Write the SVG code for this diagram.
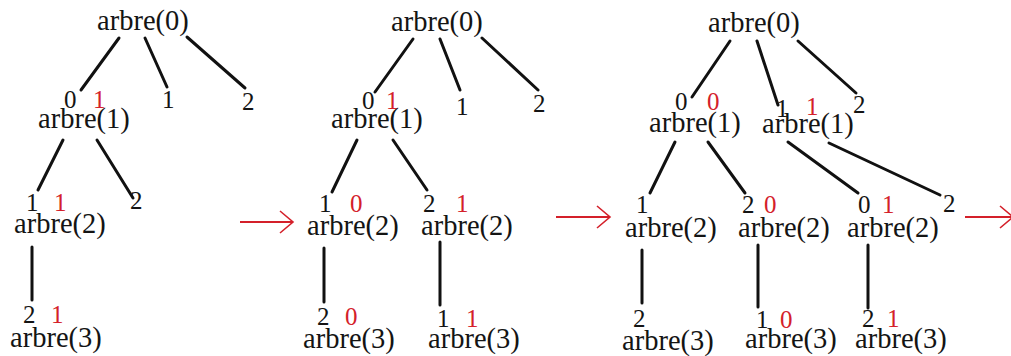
<svg xmlns="http://www.w3.org/2000/svg" width="1011" height="356" viewBox="0 0 1011 356">
<defs>
<style>
text{font-family:"Liberation Serif","Times New Roman",serif;fill:#141414}
.a{font-size:28.5px}
.d{font-size:25px}
.r{fill:#d4202a}
.e{stroke:#111;stroke-width:3;stroke-linecap:round;fill:none}
.ar{stroke:#d4202a;stroke-width:2;fill:none}
</style>
<marker id="ah" markerUnits="userSpaceOnUse" markerWidth="18" markerHeight="26" refX="14" refY="12" orient="auto">
<path d="M1,1 L14,12 L1,23" fill="none" stroke="#d4202a" stroke-width="1.6"/>
</marker>
</defs>
<rect width="1011" height="356" fill="#fff"/>
<g id="connectors">
<line class="e" x1="119" y1="38" x2="81" y2="90"/>
<line class="e" x1="145" y1="38" x2="167" y2="87"/>
<line class="e" x1="187" y1="37" x2="245" y2="88"/>
<line class="e" x1="63" y1="140" x2="38" y2="190"/>
<line class="e" x1="97" y1="140" x2="133" y2="198"/>
<line class="e" x1="32" y1="247" x2="32" y2="300"/>
<line class="e" x1="413" y1="39" x2="375" y2="92"/>
<line class="e" x1="440" y1="39" x2="460" y2="90"/>
<line class="e" x1="482" y1="38" x2="538" y2="90"/>
<line class="e" x1="357" y1="140" x2="332" y2="192"/>
<line class="e" x1="393" y1="140" x2="427" y2="190"/>
<line class="e" x1="324" y1="248" x2="324" y2="302"/>
<line class="e" x1="440" y1="242" x2="440" y2="305"/>
<line class="e" x1="730" y1="41" x2="692" y2="97"/>
<line class="e" x1="757" y1="41" x2="778" y2="105"/>
<line class="e" x1="798" y1="41" x2="856" y2="93"/>
<line class="e" x1="675" y1="142" x2="650" y2="193"/>
<line class="e" x1="708" y1="142" x2="745" y2="193"/>
<line class="e" x1="788" y1="142" x2="858" y2="193"/>
<line class="e" x1="829" y1="143" x2="940" y2="195"/>
<line class="e" x1="642" y1="250" x2="642" y2="303"/>
<line class="e" x1="758" y1="245" x2="758" y2="307"/>
<line class="e" x1="868" y1="245" x2="868" y2="308"/>
<line class="ar" x1="240" y1="222" x2="293" y2="222" marker-end="url(#ah)"/>
<line class="ar" x1="556" y1="217" x2="610" y2="217" marker-end="url(#ah)"/>
<line class="ar" x1="965" y1="217" x2="1013" y2="217" marker-end="url(#ah)"/>
</g>
<g id="p1-root"><text class="a" x="97" y="30">arbre(0)</text></g>
<g id="p1-a1"><text class="d" x="64" y="108">0</text><text class="d r" x="93" y="108">1</text><text class="a" x="38" y="128">arbre(1)</text></g>
<g id="p1-n1"><text class="d" x="162" y="108">1</text></g>
<g id="p1-n2"><text class="d" x="242" y="110">2</text></g>
<g id="p1-a2"><text class="d" x="26" y="211">1</text><text class="d r" x="54" y="211">1</text><text class="a" x="14" y="233">arbre(2)</text></g>
<g id="p1-n22"><text class="d" x="130" y="209">2</text></g>
<g id="p1-a3"><text class="d" x="23" y="323">2</text><text class="d r" x="51" y="323">1</text><text class="a" x="10" y="347">arbre(3)</text></g>
<g id="p2-root"><text class="a" x="391" y="31">arbre(0)</text></g>
<g id="p2-a1"><text class="d" x="362" y="109">0</text><text class="d r" x="386" y="109">1</text><text class="a" x="331" y="128">arbre(1)</text></g>
<g id="p2-n1"><text class="d" x="456" y="115">1</text></g>
<g id="p2-n2"><text class="d" x="533" y="112">2</text></g>
<g id="p2-a2l"><text class="d" x="319" y="212">1</text><text class="d r" x="350" y="212">0</text><text class="a" x="307" y="235">arbre(2)</text></g>
<g id="p2-a2r"><text class="d" x="423" y="212">2</text><text class="d r" x="456" y="212">1</text><text class="a" x="421" y="235">arbre(2)</text></g>
<g id="p2-a3l"><text class="d" x="317" y="325">2</text><text class="d r" x="345" y="325">0</text><text class="a" x="303" y="348">arbre(3)</text></g>
<g id="p2-a3r"><text class="d" x="437" y="327">1</text><text class="d r" x="466" y="327">1</text><text class="a" x="428" y="348">arbre(3)</text></g>
<g id="p3-root"><text class="a" x="708" y="32">arbre(0)</text></g>
<g id="p3-a1l"><text class="d" x="675" y="110">0</text><text class="d r" x="707" y="110">0</text><text class="a" x="649" y="132">arbre(1)</text></g>
<g id="p3-a1r"><text class="d" x="776" y="117">1</text><text class="d r" x="806" y="115">1</text><text class="a" x="762" y="133">arbre(1)</text></g>
<g id="p3-n2"><text class="d" x="853" y="113">2</text></g>
<g id="p3-a2a"><text class="d" x="636" y="213">1</text><text class="a" x="625" y="237">arbre(2)</text></g>
<g id="p3-a2b"><text class="d" x="742" y="213">2</text><text class="d r" x="764" y="213">0</text><text class="a" x="738" y="237">arbre(2)</text></g>
<g id="p3-a2c"><text class="d" x="858" y="213">0</text><text class="d r" x="882" y="213">1</text><text class="a" x="847" y="237">arbre(2)</text></g>
<g id="p3-n22"><text class="d" x="943" y="212">2</text></g>
<g id="p3-a3a"><text class="d" x="633" y="327">2</text><text class="a" x="622" y="350">arbre(3)</text></g>
<g id="p3-a3b"><text class="d" x="756" y="328">1</text><text class="d r" x="780" y="328">0</text><text class="a" x="745" y="348">arbre(3)</text></g>
<g id="p3-a3c"><text class="d" x="862" y="327">2</text><text class="d r" x="887" y="327">1</text><text class="a" x="855" y="348">arbre(3)</text></g>
</svg>
